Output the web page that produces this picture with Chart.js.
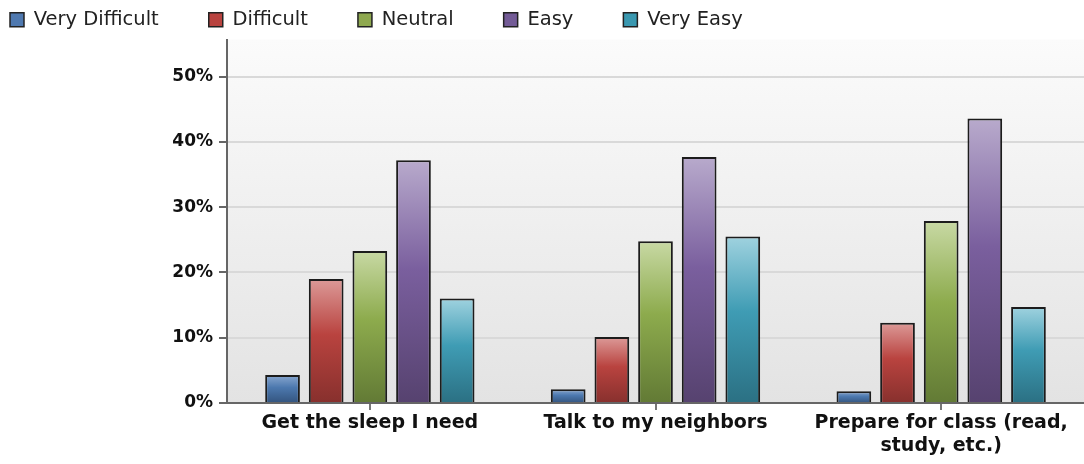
<!DOCTYPE html>
<html>
<head>
<meta charset="utf-8">
<script src="https://cdn.jsdelivr.net/npm/chart.js@4.4.1/dist/chart.umd.min.js"></script>
<style>
  html, body { margin: 0; background: #fff; overflow: hidden; }
  #wrap { width: 1084px; height: 464px; position: relative; }
</style>
</head>
<body>
<div id="wrap"><canvas id="chart"></canvas></div>
<script>
/* survey answers, percent of respondents */
const categories = ['Get the sleep I need', 'Talk to my neighbors', ['Prepare for class (read,', 'study, etc.)']];
const seriesNames = ['Very Difficult', 'Difficult', 'Neutral', 'Easy', 'Very Easy'];
const veryDifficult = [4.3, 2.1, 1.8];
const difficult = [19.0, 10.1, 12.3];
const neutral = [23.3, 24.8, 27.9];
const easy = [37.2, 37.7, 43.6];
const veryEasy = [16.0, 25.5, 14.7];
const yTicks = [0, 10, 20, 30, 40, 50];
const Y_MAX = 55.7;

const FONT = 'DejaVu Sans';

/* base + gradient stops per series (office-style palette) */
const SHADES = [
  { base: '#4f79b0', top: '#8aa8d0', mid: '#4c78ae', bottom: '#33547e' },
  { base: '#b9433f', top: '#dc9a98', mid: '#b9433f', bottom: '#87302d' },
  { base: '#8ea84f', top: '#c8d9a4', mid: '#8dab4d', bottom: '#627a35' },
  { base: '#735b96', top: '#b8aacc', mid: '#7a5f9e', bottom: '#56426f' },
  { base: '#3a98b0', top: '#9fd2df', mid: '#3f9cb4', bottom: '#2b7083' },
];

function barFill(i) {
  const s = SHADES[i];
  return ctx => {
    const chart = ctx.chart;
    const y = chart.scales.y;
    if (!y || !chart.chartArea || ctx.raw == null) return s.base;
    const top = y.getPixelForValue(ctx.raw);
    const base = y.getPixelForValue(0);
    if (!isFinite(top) || base - top < 1) return s.base;
    const g = chart.ctx.createLinearGradient(0, top, 0, base);
    g.addColorStop(0, s.top);
    g.addColorStop(0.45, s.mid);
    g.addColorStop(1, s.bottom);
    return g;
  };
}

/* ── plot area background ─────────────────────────────────────────── */
const plotBg = {
  id: 'plotBg',
  beforeDraw(chart) {
    const { ctx, chartArea: a } = chart;
    const g = ctx.createLinearGradient(0, a.top, 0, a.bottom);
    g.addColorStop(0, '#fbfbfb');
    g.addColorStop(1, '#e3e3e3');
    ctx.save();
    ctx.fillStyle = g;
    ctx.fillRect(a.left, a.top, a.right - a.left, a.bottom - a.top);
    ctx.restore();
  },
};

const seriesData = [veryDifficult, difficult, neutral, easy, veryEasy];

new Chart(document.getElementById('chart'), {
  type: 'bar',
  data: {
    labels: categories,
    datasets: seriesNames.map((name, i) => ({
      label: name,
      data: seriesData[i],
      backgroundColor: barFill(i),
      borderColor: '#1c1c1c',
      borderWidth: 2,
      categoryPercentage: 0.764,
      barPercentage: 0.795,
    })),
  },
  options: {
    responsive: true,
    maintainAspectRatio: false,
    animation: false,
    layout: { padding: { left: -40, top: -40, right: -7, bottom: 0 } },
    plugins: {
      tooltip: { enabled: false },
      legend: {
        position: 'top',
        align: 'start',
        labels: {
          color: '#222',
          boxWidth: 14,
          boxHeight: 14,
          padding: 50,
          font: { family: FONT, size: 19.5 },
          generateLabels: chart => Chart.defaults.plugins.legend.labels.generateLabels(chart)
            .map((l, i) => ({ ...l, fillStyle: SHADES[i].base, strokeStyle: '#222', lineWidth: 1.5 })),
        },
      },
    },
    scales: {
      x: {
        grid: { drawOnChartArea: false, offset: false, tickLength: 7, color: '#777', lineWidth: 2 },
        border: { color: '#666', width: 2 },
        ticks: {
          color: '#111',
          font: { family: FONT, size: 19, weight: 'bold' },
          maxRotation: 0,
          autoSkip: false,
          padding: 2,
        },
        afterFit: s => { s.height = 61; },
      },
      y: {
        min: 0,
        max: Y_MAX,
        afterBuildTicks: s => { s.ticks = yTicks.map(v => ({ value: v })); },
        grid: { color: '#d9d9d9', lineWidth: 2, tickColor: '#666', tickLength: 8 },
        border: { color: '#666', width: 2 },
        ticks: {
          color: '#111',
          font: { family: FONT, size: 17, weight: 'bold' },
          padding: 6,
          callback: v => `${v}%`,
        },
        afterFit: s => { s.width = 267; },
      },
    },
  },
  plugins: [plotBg],
});
</script>
</body>
</html>
